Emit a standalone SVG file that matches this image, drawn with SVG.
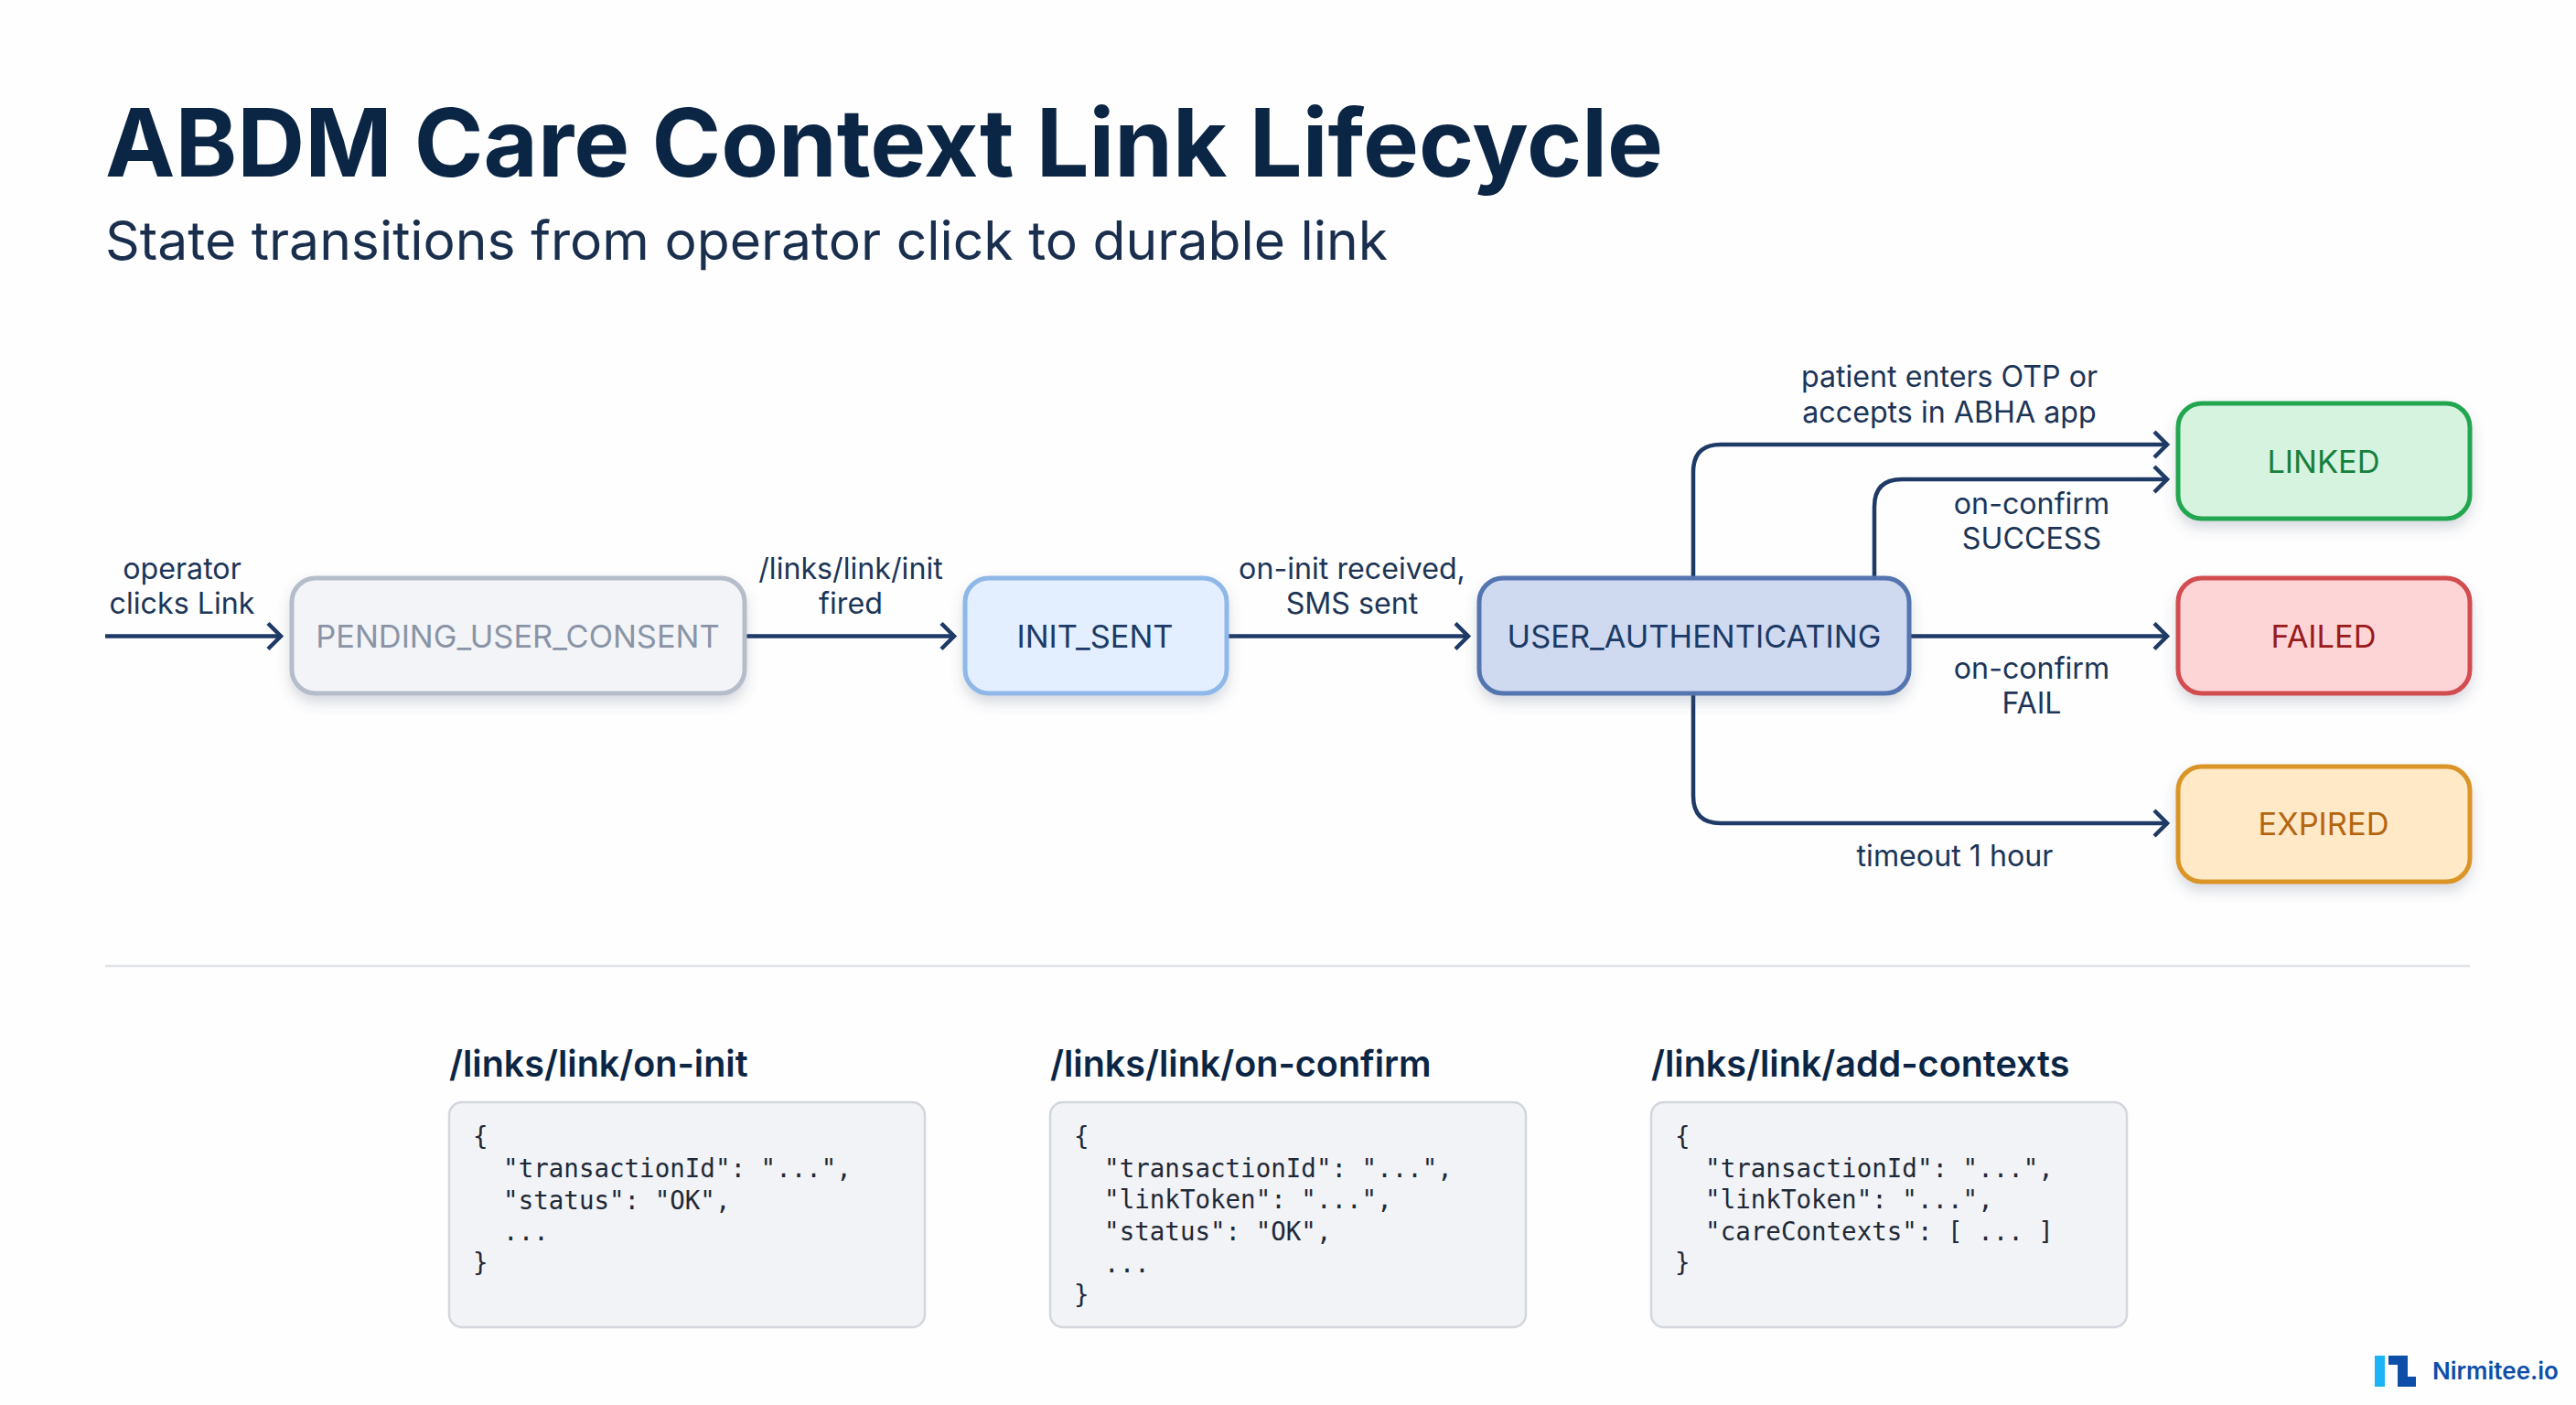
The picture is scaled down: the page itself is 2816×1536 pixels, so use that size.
<svg xmlns="http://www.w3.org/2000/svg" width="2816" height="1536" viewBox="0 0 2816 1536">
<style>
text{font-family:"Inter","Liberation Sans",sans-serif}
.t{font-size:102.4px;font-weight:700;fill:#0b2545}
.s{font-size:58.8px;fill:#1a2f4e}
.l{font-size:32.2px;fill:#1c3557;text-anchor:middle}
.n{font-size:34.4px;text-anchor:middle}
.b{stroke-width:5;filter:url(#sh)}
.c{fill:none;stroke:#1e3a66;stroke-width:4.5;marker-end:url(#a)}
.h{font-size:39.5px;font-weight:600;fill:#0b2545}
.card{fill:#f1f3f6;stroke:#d3d7dd;stroke-width:2.5}
.m{font-family:"DejaVu Sans Mono","Liberation Mono",monospace;font-size:27.5px;fill:#1f2937}
</style>
<defs>
<filter id="sh" x="-10%" y="-15%" width="120%" height="140%"><feDropShadow dx="0" dy="8" stdDeviation="7" flood-color="#4a5a75" flood-opacity="0.22"/></filter>
<marker id="a" markerUnits="userSpaceOnUse" markerWidth="22" markerHeight="34" refX="17" refY="16" orient="auto"><path d="M2,2 L16,16 L2,30" fill="none" stroke="#1e3a66" stroke-width="4.5"/></marker>
</defs>
<rect width="2816" height="1536" fill="#fefefe"/>
<text class="t" x="115" y="193">ABDM Care Context Link Lifecycle</text>
<text class="s" x="115" y="284">State transitions from operator click to durable link</text>
<g id="connectors">
<path class="c" d="M115,695.5H308"/>
<path class="c" d="M814,695.5H1044"/>
<path class="c" d="M1342,695.5H1606"/>
<path class="c" d="M2087,695.5H2370"/>
<path class="c" d="M1851,632V516Q1851,486 1881,486H2370"/>
<path class="c" d="M2049,632V554Q2049,524 2079,524H2370"/>
<path class="c" d="M1851,759V870Q1851,900 1881,900H2370"/>
</g>
<g id="edge-labels">
<text class="l" x="199" y="633">operator</text><text class="l" x="199" y="671">clicks Link</text>
<text class="l" x="930" y="633">/links/link/init</text><text class="l" x="930" y="671">fired</text>
<text class="l" x="1478" y="633">on-init received,</text><text class="l" x="1478" y="671">SMS sent</text>
<text class="l" x="2131" y="423">patient enters OTP or</text><text class="l" x="2131" y="462">accepts in ABHA app</text>
<text class="l" x="2221" y="562">on-confirm</text><text class="l" x="2221" y="600">SUCCESS</text>
<text class="l" x="2221" y="742">on-confirm</text><text class="l" x="2221" y="780">FAIL</text>
<text class="l" x="2137" y="947">timeout 1 hour</text>
</g>
<g id="pending"><rect class="b" x="319" y="632" width="495" height="126" rx="26" fill="#f3f4f7" stroke="#b6bdca"/><text class="n" x="566" y="708" fill="#8a94a6">PENDING_USER_CONSENT</text></g>
<g id="init-sent"><rect class="b" x="1055" y="632" width="286" height="126" rx="26" fill="#e3efff" stroke="#8fb8e8"/><text class="n" x="1197" y="708" fill="#1c3a66">INIT_SENT</text></g>
<g id="user-authenticating"><rect class="b" x="1617" y="632" width="470" height="126" rx="26" fill="#cfdaf0" stroke="#5575b0"/><text class="n" x="1852" y="708" fill="#1c3a66">USER_AUTHENTICATING</text></g>
<g id="linked"><rect class="b" x="2381" y="441" width="319" height="126" rx="26" fill="#d6f3df" stroke="#22a650"/><text class="n" x="2540" y="517" fill="#15803d">LINKED</text></g>
<g id="failed"><rect class="b" x="2381" y="632" width="319" height="126" rx="26" fill="#fdd5d7" stroke="#d24d50"/><text class="n" x="2540" y="708" fill="#991b1b">FAILED</text></g>
<g id="expired"><rect class="b" x="2381" y="838" width="319" height="126" rx="26" fill="#ffe9c7" stroke="#da9528"/><text class="n" x="2540" y="913" fill="#b4650f">EXPIRED</text></g>
<line x1="115" y1="1056" x2="2700" y2="1056" stroke="#dfe2e6" stroke-width="2.5"/>
<g id="card-on-init"><text class="h" x="491" y="1177">/links/link/on-init</text><rect class="card" x="491" y="1205" width="520" height="246" rx="14"/>
<text class="m" xml:space="preserve" x="517" y="1252">{</text><text class="m" xml:space="preserve" x="517" y="1287">  "transactionId": "...",</text><text class="m" xml:space="preserve" x="517" y="1322">  "status": "OK",</text><text class="m" xml:space="preserve" x="517" y="1356">  ...</text><text class="m" xml:space="preserve" x="517" y="1390">}</text></g>
<g id="card-on-confirm"><text class="h" x="1148" y="1177">/links/link/on-confirm</text><rect class="card" x="1148" y="1205" width="520" height="246" rx="14"/>
<text class="m" xml:space="preserve" x="1174" y="1252">{</text><text class="m" xml:space="preserve" x="1174" y="1287">  "transactionId": "...",</text><text class="m" xml:space="preserve" x="1174" y="1321">  "linkToken": "...",</text><text class="m" xml:space="preserve" x="1174" y="1356">  "status": "OK",</text><text class="m" xml:space="preserve" x="1174" y="1391">  ...</text><text class="m" xml:space="preserve" x="1174" y="1425">}</text></g>
<g id="card-add-contexts"><text class="h" x="1805" y="1177">/links/link/add-contexts</text><rect class="card" x="1805" y="1205" width="520" height="246" rx="14"/>
<text class="m" xml:space="preserve" x="1831" y="1252">{</text><text class="m" xml:space="preserve" x="1831" y="1287">  "transactionId": "...",</text><text class="m" xml:space="preserve" x="1831" y="1321">  "linkToken": "...",</text><text class="m" xml:space="preserve" x="1831" y="1356">  "careContexts": [ ... ]</text><text class="m" xml:space="preserve" x="1831" y="1390">}</text></g>
<g id="logo"><rect x="2596" y="1482" width="11" height="34" fill="#1cb4f5"/><path d="M2611,1482H2632V1505H2641V1516H2621V1492H2611Z" fill="#0d4fa8"/><text x="2659" y="1508" font-size="26" font-weight="600" fill="#0d4fa8">Nirmitee.io</text></g>
</svg>
